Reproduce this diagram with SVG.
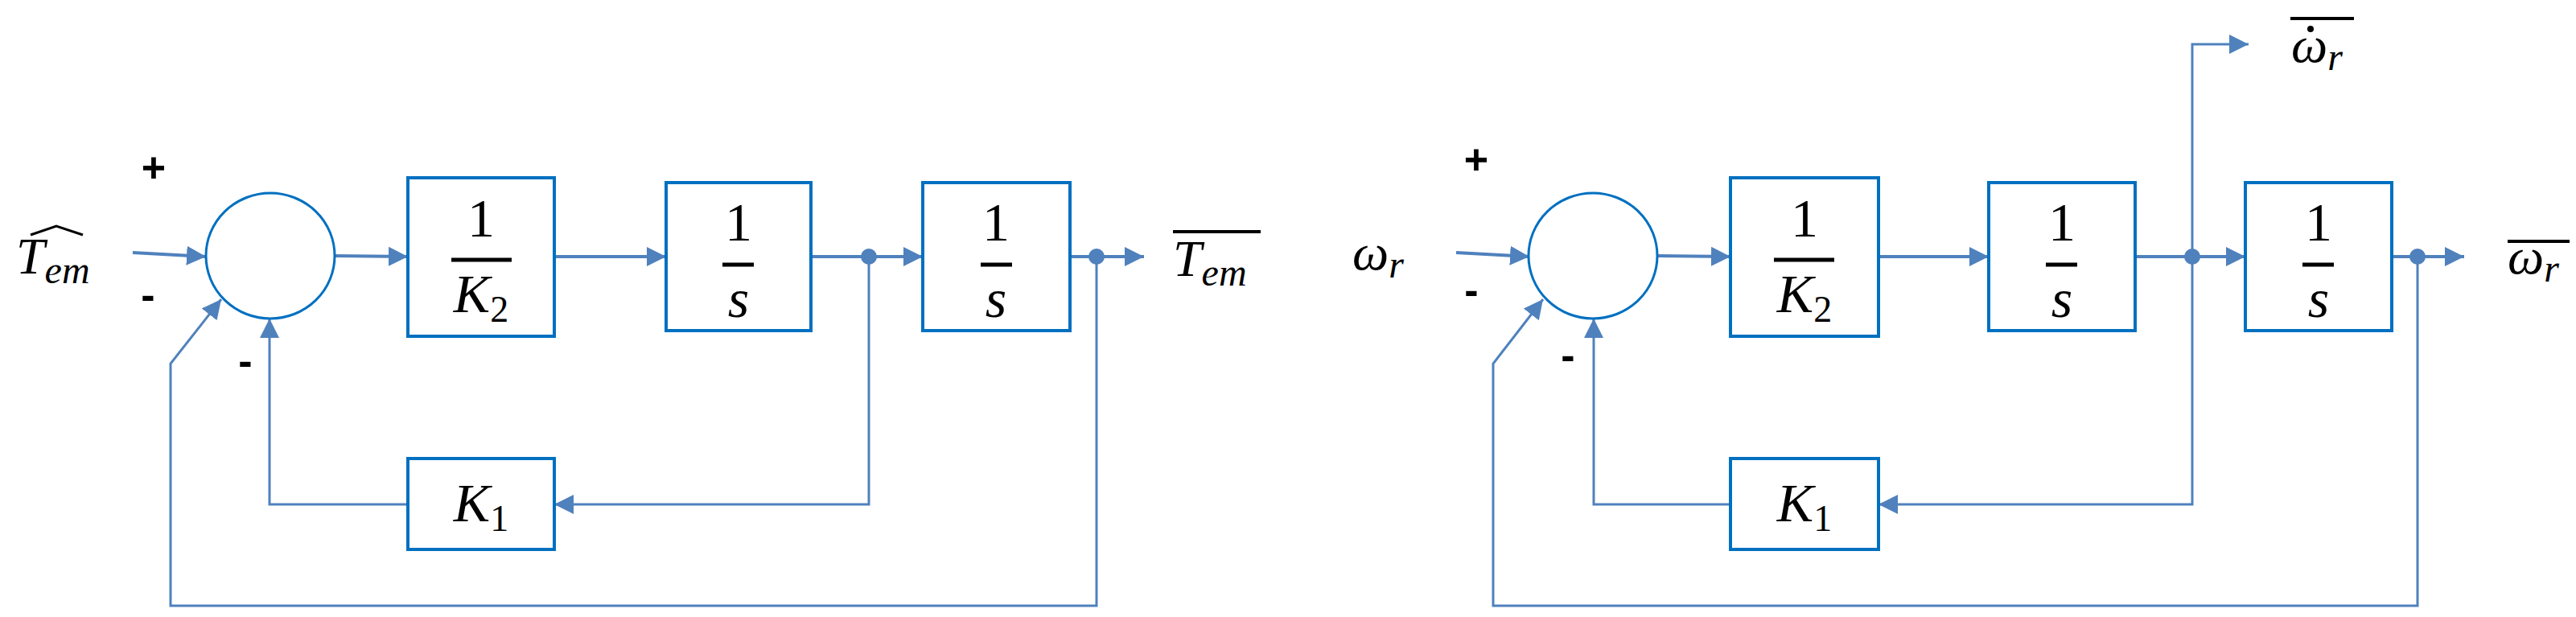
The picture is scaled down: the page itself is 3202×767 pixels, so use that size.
<svg xmlns="http://www.w3.org/2000/svg" width="3202" height="767" viewBox="0 0 3202 767">
<style>
.b{fill:#fff;stroke:#0070C0;stroke-width:4}
.c{fill:none;stroke:#4F81BD;stroke-width:4}
.t{font-family:"Liberation Serif",serif;font-style:italic;fill:#000}
.n{font-family:"Liberation Serif",serif;fill:#000}
.s{font-family:"Liberation Sans",sans-serif;fill:#000;font-size:52px;font-weight:bold}
.bar{stroke:#000;stroke-width:5}
</style>
<defs>
<marker id="a" markerUnits="userSpaceOnUse" markerWidth="26" markerHeight="24" refX="24" refY="12" orient="auto"><path d="M0,0L24,12L0,24z" fill="#4F81BD"/></marker>
</defs>
<g id="connectors">
<path class="c" d="M165,314L256,319" marker-end="url(#a)"/>
<path class="c" d="M416,318L507,319" marker-end="url(#a)"/>
<path class="c" d="M689,319L828,319" marker-end="url(#a)"/>
<path class="c" d="M1008,319L1147,319" marker-end="url(#a)"/>
<path class="c" d="M1330,319L1422,319" marker-end="url(#a)"/>
<path class="c" style="stroke-width:3" d="M1080,319V627H689" marker-end="url(#a)"/>
<path class="c" style="stroke-width:3" d="M507,627H335V396" marker-end="url(#a)"/>
<path class="c" style="stroke-width:3" d="M1363,319V753H212V452L275,372" marker-end="url(#a)"/>
<circle cx="1080" cy="319" r="10" fill="#4F81BD"/>
<circle cx="1363" cy="319" r="10" fill="#4F81BD"/>
<path class="c" d="M1810,314L1901,319" marker-end="url(#a)"/>
<path class="c" d="M2060,318L2151,319" marker-end="url(#a)"/>
<path class="c" d="M2335,319L2472,319" marker-end="url(#a)"/>
<path class="c" d="M2654,319L2791,319" marker-end="url(#a)"/>
<path class="c" d="M2973,319L3063,319" marker-end="url(#a)"/>
<path class="c" style="stroke-width:3" d="M2725,319V55H2795" marker-end="url(#a)"/>
<path class="c" style="stroke-width:3" d="M2725,319V627H2335" marker-end="url(#a)"/>
<path class="c" style="stroke-width:3" d="M2151,627H1981V396" marker-end="url(#a)"/>
<path class="c" style="stroke-width:3" d="M3005,319V753H1856V452L1918,372" marker-end="url(#a)"/>
<circle cx="2725" cy="319" r="10" fill="#4F81BD"/>
<circle cx="3005" cy="319" r="10" fill="#4F81BD"/>
</g>
<g id="left">
<g id="sum1"><ellipse class="b" cx="336" cy="318" rx="80" ry="78" style="stroke-width:3"/></g>
<g id="b1"><rect class="b" x="507" y="221" width="182" height="197"/><text class="n" x="598" y="294" font-size="68" text-anchor="middle">1</text><line class="bar" x1="561" y1="323" x2="636" y2="323"/><text class="t" x="598" y="388" font-size="68" text-anchor="middle">K<tspan font-style="normal" font-size="46" dy="12">2</tspan></text></g>
<g id="b2"><rect class="b" x="828" y="227" width="180" height="184"/><text class="n" x="918" y="299" font-size="68" text-anchor="middle">1</text><line class="bar" x1="898" y1="329" x2="937" y2="329"/><text class="t" x="918" y="394" font-size="68" text-anchor="middle">s</text></g>
<g id="b3"><rect class="b" x="1147" y="227" width="183" height="184"/><text class="n" x="1238" y="299" font-size="68" text-anchor="middle">1</text><line class="bar" x1="1219" y1="329" x2="1258" y2="329"/><text class="t" x="1238" y="394" font-size="68" text-anchor="middle">s</text></g>
<g id="k1"><rect class="b" x="507" y="570" width="182" height="113"/><text class="t" x="598" y="648" font-size="68" text-anchor="middle">K<tspan font-style="normal" font-size="46" dy="12">1</tspan></text></g>
<text class="t" x="20" y="340" font-size="64">T<tspan font-size="48" dy="12">em</tspan></text>
<path d="M38,292L70,281L103,292" fill="none" stroke="#000" stroke-width="3"/>
<text class="t" x="1458" y="343" font-size="64">T<tspan font-size="48" dy="12">em</tspan></text>
<line x1="1458" y1="288" x2="1567" y2="288" stroke="#000" stroke-width="4"/>
<text class="s" x="191" y="226" text-anchor="middle">+</text>
<text class="s" x="184" y="384" text-anchor="middle">-</text>
<text class="s" x="305" y="466" text-anchor="middle">-</text>
</g>
<g id="right">
<g id="sum2"><ellipse class="b" cx="1980" cy="318" rx="80" ry="78" style="stroke-width:3"/></g>
<g id="b4"><rect class="b" x="2151" y="221" width="184" height="197"/><text class="n" x="2243" y="294" font-size="68" text-anchor="middle">1</text><line class="bar" x1="2205" y1="323" x2="2280" y2="323"/><text class="t" x="2243" y="388" font-size="68" text-anchor="middle">K<tspan font-style="normal" font-size="46" dy="12">2</tspan></text></g>
<g id="b5"><rect class="b" x="2472" y="227" width="182" height="184"/><text class="n" x="2563" y="299" font-size="68" text-anchor="middle">1</text><line class="bar" x1="2543" y1="329" x2="2582" y2="329"/><text class="t" x="2563" y="394" font-size="68" text-anchor="middle">s</text></g>
<g id="b6"><rect class="b" x="2791" y="227" width="182" height="184"/><text class="n" x="2882" y="299" font-size="68" text-anchor="middle">1</text><line class="bar" x1="2862" y1="329" x2="2901" y2="329"/><text class="t" x="2882" y="394" font-size="68" text-anchor="middle">s</text></g>
<g id="k1b"><rect class="b" x="2151" y="570" width="184" height="113"/><text class="t" x="2243" y="648" font-size="68" text-anchor="middle">K<tspan font-style="normal" font-size="46" dy="12">1</tspan></text></g>
<text class="t" x="1681" y="335" font-size="64">ω<tspan font-size="48" dy="10">r</tspan></text>
<text class="t" x="2848" y="77" font-size="64">ω<tspan font-size="48" dy="10">r</tspan></text>
<circle cx="2872" cy="36" r="4" fill="#000"/>
<line x1="2847" y1="23" x2="2926" y2="23" stroke="#000" stroke-width="4"/>
<text class="t" x="3117" y="340" font-size="64">ω<tspan font-size="48" dy="10">r</tspan></text>
<line x1="3117" y1="300" x2="3194" y2="300" stroke="#000" stroke-width="4"/>
<text class="s" x="1835" y="216" text-anchor="middle">+</text>
<text class="s" x="1829" y="378" text-anchor="middle">-</text>
<text class="s" x="1949" y="459" text-anchor="middle">-</text>
</g>
</svg>
